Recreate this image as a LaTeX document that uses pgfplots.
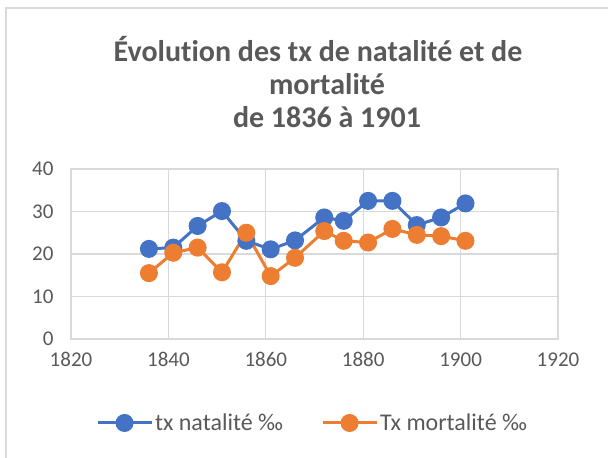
\documentclass[border=0pt]{standalone}
\usepackage{pgfplots}
\pgfplotsset{compat=1.18}
\usepackage{fontspec}
\setmainfont{Carlito}[Ligatures=NoCommon]
\definecolor{cblue}{HTML}{4472C4}
\definecolor{corange}{HTML}{ED7D31}
\definecolor{cgrid}{HTML}{D9D9D9}
\definecolor{ctext}{HTML}{595959}
\begin{document}
\begin{tikzpicture}
\path[use as bounding box] (0bp,0bp) rectangle (608bp,458bp);
\draw[cgrid, line width=1.5bp] (6bp,0bp) -- (6bp,450bp) -- (608bp,450bp);
\begin{scope}[every node/.style={font=\fontsize{30bp}{33bp}\selectfont\bfseries, text=ctext, anchor=base, inner sep=0pt}]
\node at (318bp,396bp) {Évolution des tx de natalité et de};
\node at (327bp,363bp) {mortalité};
\node at (327bp,330bp) {de 1836 à 1901};
\end{scope}
\begin{axis}[
  at={(71bp,119bp)}, anchor=south west,
  scale only axis, width=487bp, height=170bp,
  xmin=1820, xmax=1920, ymin=0, ymax=40,
  xtick={1820,1840,...,1920}, ytick={0,10,...,40},
  grid=major, major grid style={cgrid, line width=1.2bp},
  axis line style={cgrid, line width=1.2bp},
  tick style={draw=none},
  /pgf/number format/assume math mode=true,
  /pgf/number format/1000 sep={},
  ticklabel style={font=\fontsize{21bp}{24bp}\selectfont, text=ctext},
  xticklabel style={yshift=-10bp},
  yticklabel style={xshift=-14bp},
  legend style={at={(0.496,-0.494)}, anchor=center, draw=none, legend columns=2,
    font=\fontsize{24bp}{26bp}\selectfont, text=ctext,
    /tikz/every even column/.append style={column sep=36bp}},
  legend image code/.code={
    \draw[#1, line width=3bp] (0bp,0bp) -- (54bp,0bp);
    \fill[#1] (27bp,0bp) circle (7.5bp);
  },
]
\addplot[cblue, line width=3bp, mark=*, mark size=7.5bp, mark options={fill=cblue, draw=cblue}] coordinates {
(1836,21.2) (1841,21.5) (1846,26.6) (1851,30.1) (1856,23.1) (1861,21.1) (1866,23.2)
(1872,28.6) (1876,27.8) (1881,32.5) (1886,32.5) (1891,26.8) (1896,28.6) (1901,31.9)};
\addlegendentry{tx natalité ‰}
\addplot[corange, line width=3bp, mark=*, mark size=7.5bp, mark options={fill=corange, draw=corange}] coordinates {
(1836,15.5) (1841,20.3) (1846,21.5) (1851,15.7) (1856,25.0) (1861,14.8) (1866,19.1)
(1872,25.4) (1876,23.1) (1881,22.7) (1886,25.9) (1891,24.5) (1896,24.2) (1901,23.1)};
\addlegendentry{Tx mortalité ‰}
\end{axis}
\end{tikzpicture}
\end{document}
